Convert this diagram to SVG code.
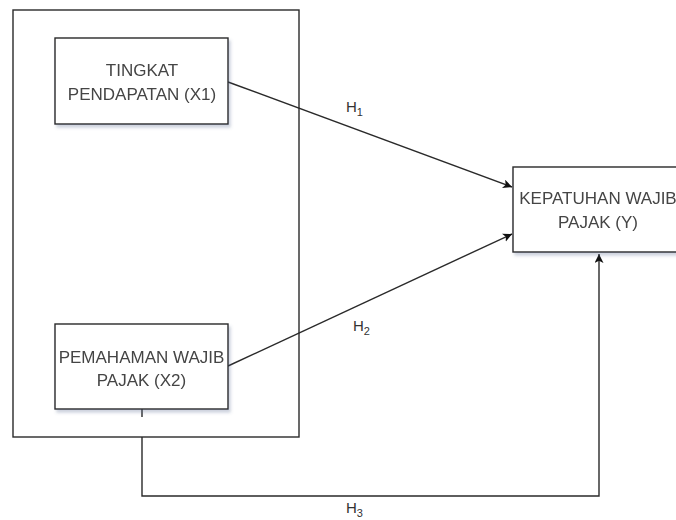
<svg xmlns="http://www.w3.org/2000/svg" width="676" height="520" viewBox="0 0 676 520">
  <style>
    .box { fill: #ffffff; stroke: #2a2a2a; stroke-width: 1.4; }
    .lbl { font-family: "Liberation Sans", Arial, sans-serif; font-size: 17px; fill: #444444; text-anchor: middle; }
    .h { font-family: "Liberation Sans", Arial, sans-serif; font-size: 15px; fill: #333333; }
    .sub { font-size: 11px; }
    .edge { fill: none; stroke: #2a2a2a; stroke-width: 1.4; }
  </style>
  <defs>
    <filter id="shadow" x="-10%" y="-10%" width="130%" height="140%">
      <feGaussianBlur in="SourceAlpha" stdDeviation="1.5"/>
      <feOffset dx="2" dy="3" result="b"/>
      <feFlood flood-color="#5a6a90" flood-opacity="0.3"/>
      <feComposite in2="b" operator="in"/>
      <feMerge><feMergeNode/><feMergeNode in="SourceGraphic"/></feMerge>
    </filter>
    <marker id="arr" viewBox="0 0 10 10" refX="10" refY="5" markerWidth="9" markerHeight="9" markerUnits="userSpaceOnUse" orient="auto">
      <path d="M0,0 L10,5 L0,10 L2.5,5 Z" fill="#111111"/>
    </marker>
  </defs>
  <rect width="676" height="520" fill="#ffffff"/>

  <g id="container">
    <rect class="box" x="13" y="10" width="286" height="427"/>
  </g>

  <g id="connectors">
    <path class="edge" d="M228 82 L512 187" marker-end="url(#arr)"/>
    <path class="edge" d="M228 366 L512 234" marker-end="url(#arr)"/>
    <path class="edge" d="M142 409 V417 M142 437 V496 H599 V254" marker-end="url(#arr)"/>
    <text class="h" x="346" y="112">H<tspan class="sub" dy="4">1</tspan></text>
    <text class="h" x="353" y="331">H<tspan class="sub" dy="4">2</tspan></text>
    <text class="h" x="346" y="513">H<tspan class="sub" dy="4">3</tspan></text>
  </g>

  <g id="x1" filter="url(#shadow)">
    <rect class="box" x="55" y="38" width="173" height="86"/>
    <text class="lbl" x="142" y="76">TINGKAT</text>
    <text class="lbl" x="142" y="100">PENDAPATAN (X1)</text>
  </g>

  <g id="x2" filter="url(#shadow)">
    <rect class="box" x="55" y="324" width="173" height="85"/>
    <text class="lbl" x="141.5" y="363">PEMAHAMAN WAJIB</text>
    <text class="lbl" x="141.5" y="386">PAJAK (X2)</text>
  </g>

  <g id="y" filter="url(#shadow)">
    <rect class="box" x="513" y="167" width="170" height="85"/>
    <text class="lbl" x="598" y="204">KEPATUHAN WAJIB</text>
    <text class="lbl" x="598" y="228">PAJAK (Y)</text>
  </g>
</svg>
